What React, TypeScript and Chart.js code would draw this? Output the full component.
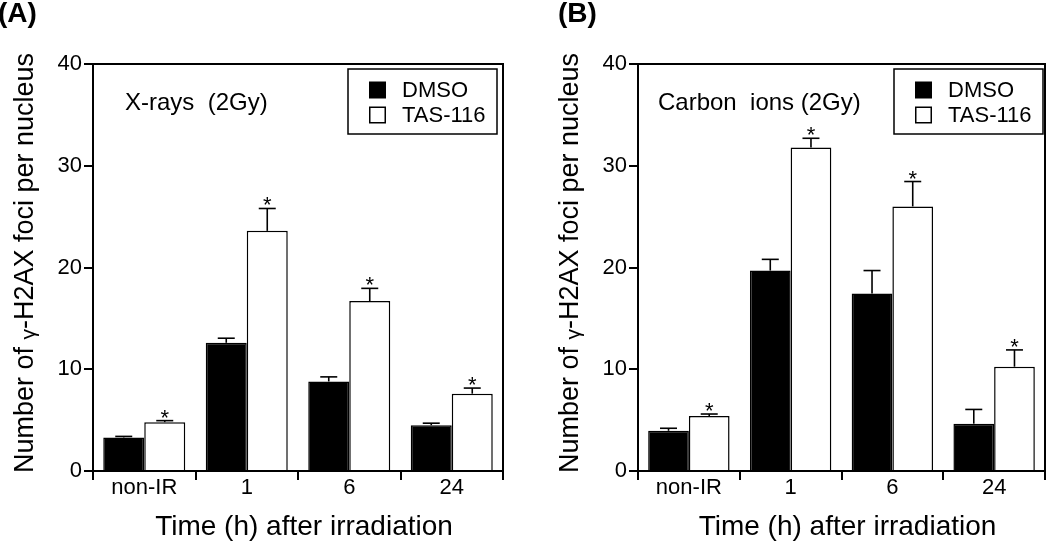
import React, { useEffect, useRef } from 'react';
import { Chart, registerables } from 'chart.js';

Chart.register(...registerables);

// ---------- data ----------
const categories = ['non-IR', '1', '6', '24'];
const seriesNames = ['DMSO', 'TAS-116'];
const yTickValues = [0, 10, 20, 30, 40];

const xrayDMSO = [3.3, 12.6, 8.8, 4.5];
const xrayDMSOErr = [0.1, 0.45, 0.45, 0.2];
const xrayTAS = [4.8, 23.6, 16.7, 7.6];
const xrayTASErr = [0.15, 2.2, 1.25, 0.55];

const carbonDMSO = [3.95, 19.7, 17.45, 4.65];
const carbonDMSOErr = [0.25, 1.1, 2.25, 1.4];
const carbonTAS = [5.4, 31.8, 26.0, 10.25];
const carbonTASErr = [0.2, 0.9, 2.45, 1.65];

const tasSignificant = [true, true, true, true];

const xTitle = 'Time (h) after irradiation';
const yTitleParts = ['Number of ', 'γ', '-H2AX foci per nucleus'];

const FONT = "'Liberation Sans', Arial, Helvetica, sans-serif";
const H = 544;

type PanelProps = {
  panelLabel: string;
  annotation: string;
  dmso: number[];
  dmsoErr: number[];
  tas: number[];
  tasErr: number[];
  width: number;
  padLeft: number;
  padRight: number;
  legendLeft: number;
  labelX: number;
  annotationX: number;
};

function line(ctx: CanvasRenderingContext2D, x1: number, y1: number, x2: number, y2: number) {
  ctx.beginPath();
  ctx.moveTo(x1, y1);
  ctx.lineTo(x2, y2);
  ctx.stroke();
}

function Panel(p: PanelProps) {
  const ref = useRef<HTMLCanvasElement>(null);

  useEffect(() => {
    if (!ref.current) return;
    const overlay = {
      id: 'overlay',
      afterDatasetsDraw(chart: any) {
        const ctx: CanvasRenderingContext2D = chart.ctx;
        const ca = chart.chartArea;
        const ys = chart.scales.y;
        ctx.save();
        ctx.strokeStyle = '#000';
        ctx.fillStyle = '#000';
        const sets: [number[], number[]][] = [
          [p.dmso, p.dmsoErr],
          [p.tas, p.tasErr],
        ];
        sets.forEach(([vals, errs], di) => {
          const meta = chart.getDatasetMeta(di);
          meta.data.forEach((el: any, i: number) => {
            const x = el.x;
            const yv = ys.getPixelForValue(vals[i]);
            const ye = ys.getPixelForValue(vals[i] + errs[i]);
            ctx.lineWidth = 1.6;
            line(ctx, x, yv, x, ye);
            line(ctx, x - 8.5, ye, x + 8.5, ye);
            if (di === 1 && tasSignificant[i]) {
              ctx.font = `22px ${FONT}`;
              ctx.textAlign = 'center';
              ctx.textBaseline = 'alphabetic';
              ctx.fillText('*', x, ye + 4);
            }
          });
        });
        // frame
        ctx.lineWidth = 2;
        line(ctx, ca.left - 1, ca.top, ca.right + 1, ca.top);
        line(ctx, ca.right, ca.top, ca.right, ca.bottom);
        ctx.restore();
      },
      afterDraw(chart: any) {
        const ctx: CanvasRenderingContext2D = chart.ctx;
        const ca = chart.chartArea;
        ctx.save();
        ctx.fillStyle = '#000';
        ctx.strokeStyle = '#000';
        // panel label
        ctx.font = `bold 28px ${FONT}`;
        ctx.textAlign = 'left';
        ctx.textBaseline = 'middle';
        ctx.fillText(p.panelLabel, p.labelX, 14);
        // annotation
        ctx.font = `24px ${FONT}`;
        ctx.fillText(p.annotation, p.annotationX, 103);
        // legend
        const bx = p.legendLeft;
        ctx.lineWidth = 1.5;
        ctx.strokeRect(bx, 69, 149, 65);
        const rows = [90, 115];
        ctx.font = `22px ${FONT}`;
        rows.forEach((ry, i) => {
          if (i === 0) {
            ctx.fillRect(bx + 21, ry - 8.5, 17, 17);
          } else {
            ctx.fillStyle = '#fff';
            ctx.fillRect(bx + 21, ry - 8.5, 17, 17);
            ctx.fillStyle = '#000';
            ctx.strokeRect(bx + 21.75, ry - 7.75, 15.5, 15.5);
          }
          ctx.fillText(seriesNames[i], bx + 54, ry + 1);
        });
        // y title (rotated, small gamma)
        ctx.save();
        ctx.translate(p.padLeft + 23, 263);
        ctx.rotate(-Math.PI / 2);
        const sizes = [27, 21, 27];
        let total = 0;
        const widths = yTitleParts.map((t, i) => {
          ctx.font = `${sizes[i]}px ${FONT}`;
          const w = ctx.measureText(t).width;
          total += w;
          return w;
        });
        let cx = -total / 2;
        ctx.textBaseline = 'alphabetic';
        yTitleParts.forEach((t, i) => {
          ctx.font = `${sizes[i]}px ${FONT}`;
          ctx.fillText(t, cx, i === 1 ? 12 : 10);
          cx += widths[i];
        });
        ctx.restore();
        // x title
        ctx.font = `28px ${FONT}`;
        ctx.textAlign = 'center';
        ctx.textBaseline = 'middle';
        ctx.fillText(xTitle, (ca.left + ca.right) / 2 + 6, 527);
        ctx.restore();
      },
    };

    const chart = new Chart(ref.current, {
      type: 'bar',
      data: {
        labels: categories,
        datasets: [
          {
            label: seriesNames[0],
            data: p.dmso,
            backgroundColor: '#000',
            borderColor: '#000',
            borderWidth: 1.5,
            categoryPercentage: 0.8,
            barPercentage: 1.0,
          },
          {
            label: seriesNames[1],
            data: p.tas,
            backgroundColor: '#fff',
            borderColor: '#000',
            borderWidth: 1.5,
            categoryPercentage: 0.8,
            barPercentage: 1.0,
          },
        ],
      },
      options: {
        responsive: false,
        animation: false,
        devicePixelRatio: 1,
        layout: { padding: { top: 64, left: p.padLeft, right: p.padRight, bottom: 0 } },
        plugins: { legend: { display: false }, tooltip: { enabled: false }, title: { display: false } },
        scales: {
          x: {
            type: 'category',
            offset: true,
            grid: {
              offset: true,
              drawOnChartArea: false,
              drawTicks: true,
              tickLength: 9,
              color: '#000',
              lineWidth: 2,
            },
            border: { display: true, color: '#000', width: 2 },
            ticks: { color: '#000', font: { family: FONT, size: 22 }, padding: -5 },
            afterFit: (s: any) => {
              s.height = 73;
            },
          },
          y: {
            min: 0,
            max: 40,
            afterBuildTicks: (s: any) => {
              s.ticks = yTickValues.map((v) => ({ value: v }));
            },
            grid: {
              drawOnChartArea: false,
              drawTicks: true,
              tickLength: 9,
              color: '#000',
              lineWidth: 2,
            },
            border: { display: true, color: '#000', width: 2 },
            ticks: { color: '#000', font: { family: FONT, size: 22 }, padding: 2 },
            afterFit: (s: any) => {
              s.width = 93;
            },
          },
        },
      } as any,
      plugins: [overlay],
    });
    return () => chart.destroy();
  }, []);

  return <canvas ref={ref} width={p.width} height={H} style={{ display: 'block', width: p.width, height: H }} />;
}

export default function App() {
  return (
    <div style={{ position: 'absolute', left: 0, top: 0, width: 1050, height: H, display: 'flex', background: '#fff' }}>
      <Panel
        panelLabel="(A)"
        annotation="X-rays  (2Gy)"
        dmso={xrayDMSO}
        dmsoErr={xrayDMSOErr}
        tas={xrayTAS}
        tasErr={xrayTASErr}
        width={525}
        padLeft={0}
        padRight={22}
        legendLeft={348}
        labelX={-2}
        annotationX={125}
      />
      <Panel
        panelLabel="(B)"
        annotation="Carbon  ions (2Gy)"
        dmso={carbonDMSO}
        dmsoErr={carbonDMSOErr}
        tas={carbonTAS}
        tasErr={carbonTASErr}
        width={525}
        padLeft={20}
        padRight={5}
        legendLeft={369}
        labelX={33}
        annotationX={133}
      />
    </div>
  );
}
